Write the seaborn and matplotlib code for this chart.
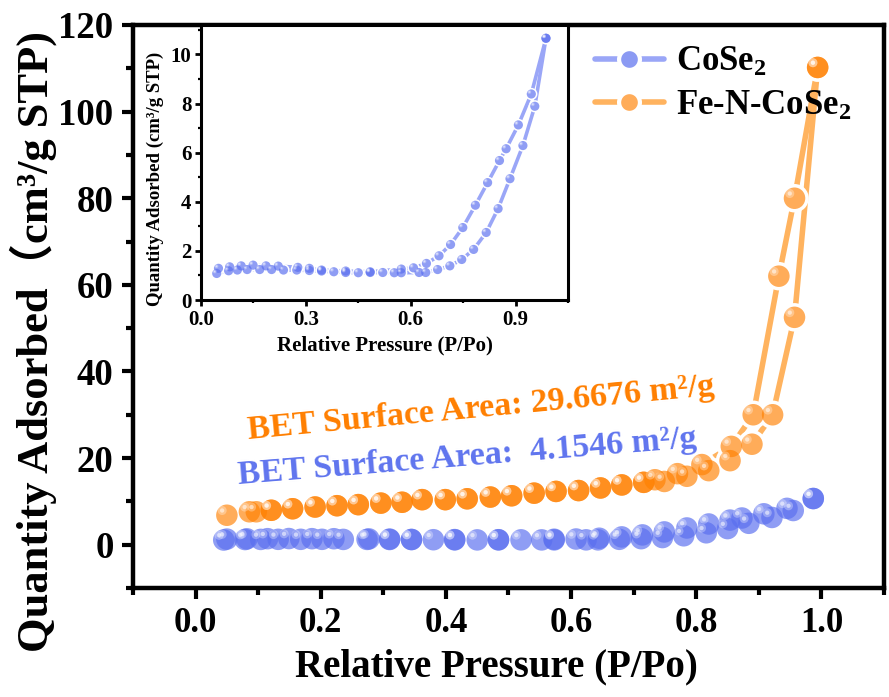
import numpy as np
import pandas as pd
import matplotlib
matplotlib.use("Agg")
import matplotlib.pyplot as plt
import matplotlib.transforms as mtransforms
from matplotlib.lines import Line2D
from matplotlib.ticker import MultipleLocator
import seaborn as sns

# ---------------- data ----------------
# CoSe2 adsorption branch
co_ads_x = [0.045, 0.079, 0.104, 0.132, 0.168, 0.202, 0.236, 0.274, 0.31, 0.345, 0.38, 0.414,
            0.45, 0.484, 0.52, 0.553, 0.573, 0.624, 0.643, 0.677, 0.712, 0.746, 0.78, 0.816,
            0.85, 0.884, 0.921, 0.955, 0.987]
co_ads_y = [1.08, 1.19, 1.22, 1.24, 1.24, 1.24, 1.22, 1.22, 1.20, 1.18, 1.15, 1.12,
            1.11, 1.12, 1.12, 1.11, 1.11, 1.12, 1.12, 1.24, 1.39, 1.65, 2.06, 2.75,
            3.72, 4.94, 6.29, 7.89, 10.66]
# CoSe2 desorption branch
co_des_x = [0.987, 0.945, 0.908, 0.873, 0.854, 0.82, 0.785, 0.749, 0.714, 0.681, 0.645, 0.608,
            0.573, 0.484, 0.414, 0.345, 0.31, 0.277, 0.221, 0.186, 0.149, 0.115, 0.082, 0.05]
co_des_y = [10.66, 8.39, 7.13, 6.16, 5.68, 4.78, 3.86, 2.95, 2.26, 1.80, 1.49, 1.31,
            1.26, 1.15, 1.18, 1.22, 1.29, 1.33, 1.38, 1.39, 1.42, 1.39, 1.35, 1.29]
# Fe-N-CoSe2 adsorption branch
fe_ads_x = [0.05, 0.086, 0.121, 0.155, 0.191, 0.226, 0.26, 0.296, 0.33, 0.362, 0.399, 0.434,
            0.471, 0.505, 0.541, 0.576, 0.612, 0.647, 0.681, 0.716, 0.749, 0.785, 0.82, 0.854,
            0.889, 0.922, 0.957, 0.994]
fe_ads_y = [6.8, 7.6, 7.95, 8.3, 8.7, 9.0, 9.25, 9.6, 9.8, 10.4, 10.4, 10.6,
            11.0, 11.3, 11.9, 12.3, 12.5, 13.1, 13.8, 14.4, 14.6, 15.8, 17.1, 19.4,
            23.2, 30.0, 52.5, 110.2]
# Fe-N-CoSe2 desorption branch
fe_des_x = [0.994, 0.957, 0.932, 0.891, 0.856, 0.809, 0.770, 0.734, 0.716, 0.681, 0.647, 0.612,
            0.576, 0.541, 0.505, 0.471, 0.434, 0.399, 0.362, 0.33, 0.296, 0.26, 0.226, 0.191,
            0.155, 0.121, 0.097]
fe_des_y = [110.2, 80.0, 62.0, 30.0, 22.7, 18.5, 16.4, 15.0, 14.4, 13.8, 13.1, 12.5,
            12.3, 11.9, 11.3, 11.0, 10.6, 10.4, 10.4, 9.8, 9.6, 9.25, 9.0, 8.7,
            8.3, 7.95, 7.6]

series_names = ["CoSe$_2$", "Fe-N-CoSe$_2$"]
bet_texts = ["BET Surface Area:  4.1546 m\u00b2/g", "BET Surface Area: 29.6676 m\u00b2/g"]
main_xticks = [0.0, 0.2, 0.4, 0.6, 0.8, 1.0]
main_yticks = [0, 20, 40, 60, 80, 100, 120]
inset_xticks = [0.0, 0.3, 0.6, 0.9]
inset_yticks = [0, 2, 4, 6, 8, 10]

# ---------------- style ----------------
sns.set_theme(style="white")
plt.rcParams["font.family"] = ["Liberation Serif", "Noto Sans CJK SC", "DejaVu Sans"]
plt.rcParams["font.weight"] = "bold"
plt.rcParams["mathtext.fontset"] = "custom"
plt.rcParams["mathtext.rm"] = "Liberation Serif:bold"
plt.rcParams["mathtext.bf"] = "Liberation Serif:bold"
plt.rcParams["mathtext.it"] = "Liberation Serif:bold"
for key in ["text.color", "axes.labelcolor", "xtick.color", "ytick.color", "axes.edgecolor"]:
    plt.rcParams[key] = "black"

BLUE = "#5a6fef"
ORANGE = "#ff8000"
BLUE_LINE = "#9aa6f7"
ORANGE_LINE = "#ffb35f"
BLUE_TXT = "#5f74ee"
ORANGE_TXT = "#ff7f00"

fig = plt.figure(figsize=(8.89, 6.97), dpi=100)
ax = fig.add_axes([133 / 889, (697 - 588) / 697, (884 - 133) / 889, (588 - 25) / 697])
axin = fig.add_axes([201 / 889, (697 - 300) / 697, (568 - 201) / 889, (300 - 25) / 697])


def branch_line(axis, xs, ys, lcolor, lw):
    df = pd.DataFrame({"x": xs, "y": ys})
    sns.lineplot(data=df, x="x", y="y", sort=False, ax=axis, color=lcolor, lw=lw,
                 estimator=None, zorder=2, legend=False)
    return df


def draw_markers(axis, df, color, ms, alpha, z):
    sns.scatterplot(data=df, x="x", y="y", ax=axis, s=ms ** 2, color=color, alpha=alpha,
                    edgecolor="none", linewidth=0, zorder=z, legend=False)
    # glossy highlight (offset up-left in points)
    off = mtransforms.offset_copy(axis.transData, fig=fig, x=-ms * 0.22, y=ms * 0.22, units="points")
    axis.scatter(df["x"], df["y"], s=(ms * 0.42) ** 2, color="white", alpha=0.30,
                 edgecolor="none", transform=off, zorder=z + 0.1)
    axis.scatter(df["x"], df["y"], s=(ms * 0.2) ** 2, color="white", alpha=0.55,
                 edgecolor="none", transform=off, zorder=z + 0.2)


def plot_all(axis, ms, lw, gap):
    branches = [
        (co_ads_x, co_ads_y, BLUE, BLUE_LINE),
        (co_des_x, co_des_y, BLUE, BLUE_LINE),
    ]
    if axis is ax:
        branches += [
            (fe_ads_x, fe_ads_y, ORANGE, ORANGE_LINE),
            (fe_des_x, fe_des_y, ORANGE, ORANGE_LINE),
        ]
    dfs = []
    for xs, ys, c, lc in branches:
        dfs.append((branch_line(axis, xs, ys, lc, lw), c))
    # white halos to open gaps in the lines around markers
    for df, c in dfs:
        axis.scatter(df["x"], df["y"], s=(ms + gap) ** 2, color="white", edgecolor="none", zorder=3)
    for df, c in dfs:
        draw_markers(axis, df, c, ms, 0.68 if c == BLUE else 0.65, 4)


plot_all(ax, ms=15.5, lw=4.0, gap=5)
plot_all(axin, ms=6.6, lw=2.6, gap=2.2)

# ---------------- main axes ----------------
ax.set_xlim(-0.1, 1.1)
ax.set_ylim(-10, 120)
ax.set_xticks(main_xticks)
ax.set_xticklabels([f"{v:.1f}" for v in main_xticks])
ax.set_yticks(main_yticks)
ax.set_yticklabels([str(v) for v in main_yticks])
ax.xaxis.set_minor_locator(MultipleLocator(0.1))
ax.yaxis.set_minor_locator(MultipleLocator(10))
ax.tick_params(axis="x", which="major", labelsize=25)
ax.tick_params(axis="y", which="major", labelsize=26.5)
ax.tick_params(axis="both", which="major", direction="out", length=8, width=3, colors="black",
               bottom=True, left=True, top=False, right=False, pad=6)
ax.tick_params(axis="both", which="minor", direction="out", length=5, width=3, colors="black",
               bottom=True, left=True, top=False, right=False)
for lab in ax.get_xticklabels() + ax.get_yticklabels():
    lab.set_fontweight("bold")
for sp in ax.spines.values():
    sp.set_linewidth(3.2)
    sp.set_color("black")
ax.set_xlabel("")
ax.set_ylabel("")

fig.text(496 / 889, (697 - 667) / 697, "Relative Pressure (P/Po)", fontsize=28,
         fontweight="bold", ha="center", va="center", color="black")
fig.text(33 / 889, (697 - 342) / 697, "Quantity Adsorbed\uff08cm\u00b3/g STP)", fontsize=32,
         fontweight="bold", ha="center", va="center", rotation=90, color="black")

# BET annotations
ax.text(0.068, 14.1, bet_texts[0], color=BLUE_TXT, fontsize=24.5, fontweight="bold",
        rotation=4.6, rotation_mode="anchor", ha="left", va="baseline", zorder=6)
ax.text(0.084, 24.5, bet_texts[1], color=ORANGE_TXT, fontsize=24.5, fontweight="bold",
        rotation=5.4, rotation_mode="anchor", ha="left", va="baseline", zorder=6)

# legend
handles = [
    Line2D([], [], color=BLUE_LINE, lw=4, marker="o", markersize=15, markerfacecolor="#8b9af3",
           markeredgecolor="white", markeredgewidth=3),
    Line2D([], [], color=ORANGE_LINE, lw=4, marker="o", markersize=15, markerfacecolor="#ffac59",
           markeredgecolor="white", markeredgewidth=3),
]
leg = ax.legend(handles, series_names, loc="upper right", bbox_to_anchor=(0.985, 1.0),
                frameon=False, fontsize=25, handlelength=2.0, handletextpad=0.35,
                labelspacing=0.3, borderaxespad=0.2)
for t in leg.get_texts():
    t.set_fontweight("bold")
    t.set_color("black")

# ---------------- inset ----------------
axin.set_facecolor("white")
axin.set_xlim(0.0, 1.05)
axin.set_ylim(0, 11.2)
axin.set_xticks(inset_xticks)
axin.set_xticklabels([f"{v:.1f}" for v in inset_xticks])
axin.set_yticks(inset_yticks)
axin.set_yticklabels([str(v) for v in inset_yticks])
axin.xaxis.set_minor_locator(MultipleLocator(0.15))
axin.yaxis.set_minor_locator(MultipleLocator(1))
axin.tick_params(axis="both", which="major", direction="out", length=4, width=2, labelsize=15,
                 colors="black", bottom=True, left=True, top=False, right=False, pad=3)
axin.tick_params(axis="both", which="minor", direction="out", length=2.5, width=1.6,
                 colors="black", bottom=True, left=True, top=False, right=False)
for lab in axin.get_xticklabels() + axin.get_yticklabels():
    lab.set_fontweight("bold")
for sp in axin.spines.values():
    sp.set_linewidth(2.2)
    sp.set_color("black")
axin.set_xlabel("Relative Pressure (P/Po)", fontsize=15, fontweight="bold", labelpad=4, color="black")
axin.set_ylabel("Quantity Adsorbed (cm\u00b3/g STP)", fontsize=13.5, fontweight="bold", labelpad=3,
                color="black")
axin.yaxis.set_label_coords(-0.1, 0.44)

fig.savefig("out.png", dpi=100)
